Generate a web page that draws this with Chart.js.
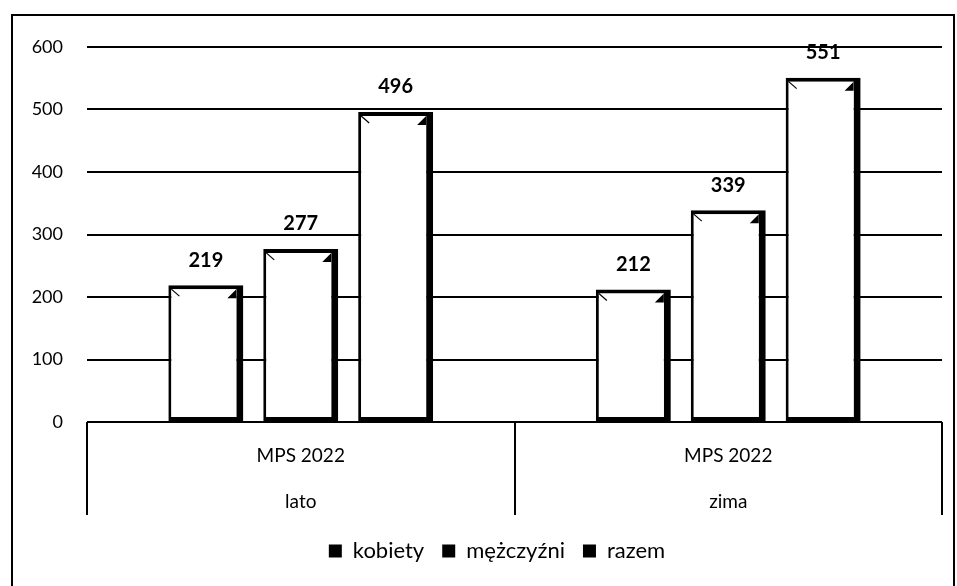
<!DOCTYPE html>
<html><head><meta charset="utf-8">
<script src="https://cdn.jsdelivr.net/npm/chart.js@4/dist/chart.umd.min.js"></script>
<style>
html,body{margin:0;padding:0;background:#fff;}
#wrap{position:relative;width:957px;height:586px;}
#frame{position:absolute;left:11px;top:14px;width:944px;height:600px;border:2px solid #000;box-sizing:border-box;}
canvas{position:absolute;left:0;top:0;}
</style></head>
<body><div id="wrap"><div id="frame"></div><canvas id="c" width="957" height="586"></canvas></div>
<script>
const categories = [["MPS 2022","lato"],["MPS 2022","zima"]];
const seriesNames = ["kobiety","mężczyźni","razem"];
const kobiety = [219,212];
const mezczyzni = [277,339];
const razem = [496,551];
const yTicks = [0,100,200,300,400,500,600];

const FONT = "Lato, 'Open Sans', sans-serif";

const valueLabels = {
  id:'valueLabels',
  afterDatasetsDraw(chart){
    const ctx = chart.ctx;
    ctx.save();
    chart.data.datasets.forEach((ds,i)=>{
      chart.getDatasetMeta(i).data.forEach((bar,j)=>{
        const l = bar.x - bar.width/2 + 3, r = bar.x + bar.width/2 - 7, t = bar.y + 4;
        ctx.strokeStyle = "#000"; ctx.lineWidth = 1.2;
        ctx.beginPath(); ctx.moveTo(l, t); ctx.lineTo(l+8, t+7); ctx.stroke();
        ctx.fillStyle = "#000";
        ctx.beginPath(); ctx.moveTo(r, t); ctx.lineTo(r, t+9); ctx.lineTo(r-9, t+9); ctx.closePath(); ctx.fill();
        ctx.font = "bold 20px " + FONT;
        ctx.textAlign = "center";
        ctx.textBaseline = "middle";
        ctx.fillText(String(ds.data[j]), bar.x, bar.y - 25);
      });
    });
    ctx.restore();
  }
};

const catLines = {
  id:'catLines',
  afterLayout(chart){
    if (chart.legend){ chart.legend.left += 26; chart.legend.right += 26; }
  },
  afterDraw(chart){
    const xs = chart.scales.x;
    const ctx = chart.ctx;
    const n = chart.data.labels.length;
    const step = (xs.right - xs.left)/n;
    ctx.save();
    ctx.strokeStyle = "#000";
    ctx.lineWidth = 2;
    for(let i=0;i<=n;i++){
      const x = Math.round(xs.left + i*step);
      ctx.beginPath();
      ctx.moveTo(x, chart.chartArea.bottom);
      ctx.lineTo(x, chart.chartArea.bottom + 93);
      ctx.stroke();
    }
    ctx.restore();
  }
};

new Chart(document.getElementById('c'), {
  type:'bar',
  data:{
    labels: categories,
    datasets:[
      {label:seriesNames[0], data:kobiety},
      {label:seriesNames[1], data:mezczyzni},
      {label:seriesNames[2], data:razem}
    ].map(d=>Object.assign(d,{
      backgroundColor:"#fff",
      borderColor:"#000",
      borderWidth:{top:4,left:3,right:7,bottom:4},
      borderSkipped:false,
      categoryPercentage:0.666,
      barPercentage:0.79
    }))
  },
  options:{
    responsive:false,
    animation:false,
    devicePixelRatio:1,
    layout:{padding:{left:0,right:15,top:47,bottom:14}},
    plugins:{
      legend:{
        position:'bottom',
        labels:{
          font:{family:FONT,size:22},
          color:"#000",
          boxWidth:13, boxHeight:13,
          padding:18,
          generateLabels(chart){
            return chart.data.datasets.map((d,i)=>({
              text:d.label, fillStyle:"#000", strokeStyle:"#000", lineWidth:0, datasetIndex:i, fontColor:"#000"
            }));
          }
        }
      },
      tooltip:{enabled:false}
    },
    scales:{
      x:{
        grid:{display:false},
        border:{display:false},
        afterFit(a){ a.height = 100; },
        ticks:{color:"#000",font:{family:FONT,size:19,lineHeight:2.4},padding:3}
      },
      y:{
        min:0,max:600,
        afterFit(a){ a.width = 87; },
        afterBuildTicks(axis){ axis.ticks = yTicks.map(v=>({value:v})); },
        grid:{color:"#000",lineWidth:2,drawTicks:false},
        border:{display:false},
        ticks:{color:"#000",font:{family:FONT,size:18},padding:24}
      }
    }
  },
  plugins:[valueLabels,catLines]
});
</script>
</body></html>
